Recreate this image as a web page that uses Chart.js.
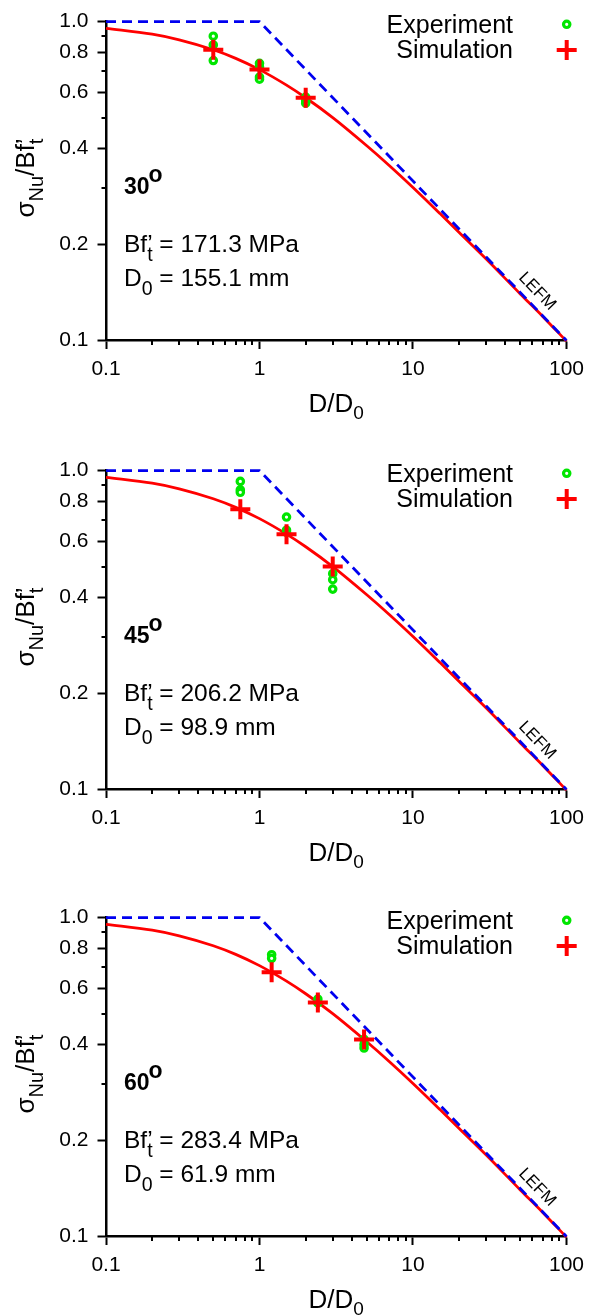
<!DOCTYPE html>
<html lang="en">
<head>
  <meta charset="UTF-8">
  <title>Size effect – normalised nominal strength</title>
  <script src="https://cdn.jsdelivr.net/npm/chart.js"></script>
  <style>
    body { margin:0; background:#fff; width:592px; height:1315px; overflow:hidden; position:relative; }
    .panel { position:absolute; left:0; width:592px; }
    canvas { display:block; }
  </style>
</head>
<body>
  <div class="panel" style="top:0px"><canvas id="c30" width="592" height="449"></canvas></div>
  <div class="panel" style="top:449px"><canvas id="c45" width="592" height="447"></canvas></div>
  <div class="panel" style="top:896px"><canvas id="c60" width="592" height="419"></canvas></div>

<script>
// axis ticks
const xTickValues = [0.1, 1, 10, 100];
const xTickLabels = ['0.1', '1', '10', '100'];
const xMinorTicks = [0.2, 0.3, 0.4, 0.5, 0.6, 0.7, 0.8, 0.9, 2, 3, 4, 5, 6, 7, 8, 9, 20, 30, 40, 50, 60, 70, 80, 90];
const yTickValues = [0.1, 0.2, 0.4, 0.6, 0.8, 1.0];
const yTickLabels = ['0.1', '0.2', '0.4', '0.6', '0.8', '1.0'];
const yMinorTicks = [0.3, 0.5, 0.7, 0.9];

// size effect curve (same normalised curve in every panel)
const curveX = [0.1, 0.2, 0.3, 0.5, 0.7, 1, 1.5, 2, 3, 5, 7, 10, 15, 20, 30, 50, 70, 100];
const curveY = [0.953, 0.913, 0.877, 0.816, 0.767, 0.707, 0.632, 0.577, 0.500, 0.408, 0.354, 0.302, 0.250, 0.218, 0.180, 0.140, 0.119, 0.0995];

// LEFM asymptote
const lefmX = [0.1, 1, 100];
const lefmY = [1, 1, 0.1];

// panel labels
const angles = ['30', '45', '60'];
const strengths = ['171.3', '206.2', '283.4'];
const sizes = ['155.1', '98.9', '61.9'];

// 30 degrees
const simX30 = [0.5, 1, 2];
const simY30 = [0.816, 0.707, 0.577];
const expX30 = [0.5, 0.5, 0.5, 1, 1, 1, 1, 2, 2, 2];
const expY30 = [0.90, 0.845, 0.755, 0.74, 0.72, 0.67, 0.66, 0.58, 0.565, 0.555];

// 45 degrees
const simX45 = [0.75, 1.5, 3];
const simY45 = [0.756, 0.632, 0.500];
const expX45 = [0.75, 0.75, 0.75, 1.5, 1.5, 1.5, 3, 3, 3];
const expY45 = [0.925, 0.87, 0.855, 0.715, 0.65, 0.64, 0.475, 0.455, 0.425];

// 60 degrees
const simX60 = [1.2, 2.4, 4.8];
const simY60 = [0.674, 0.542, 0.415];
const expX60 = [1.2, 1.2, 2.4, 2.4, 4.8, 4.8, 4.8];
const expY60 = [0.765, 0.745, 0.555, 0.54, 0.415, 0.40, 0.39];

const GREEN = '#00e600';
const RED = '#ff0000';
const BLUE = '#0000f0';
const FONT = '"Liberation Sans", Arial, sans-serif';

const pts = (xs, ys) => xs.map((x, i) => ({ x: x, y: ys[i] }));

function drawRuns(ctx, x, y, parts) {
  let cx = x;
  for (const p of parts) {
    ctx.font = p.f;
    ctx.fillText(p.t, cx, y + (p.dy || 0));
    if (!p.hold) cx += ctx.measureText(p.t).width;
  }
  return cx;
}
function runsWidth(ctx, parts) {
  let w = 0;
  for (const p of parts) {
    ctx.font = p.f;
    if (!p.hold) w += ctx.measureText(p.t).width;
  }
  return w;
}

const panelText = {
  id: 'panelText',
  afterDatasetsDraw(chart, args, opts) {
    const ctx = chart.ctx;
    const xs = chart.scales.x, ys = chart.scales.y;
    const area = chart.chartArea;
    ctx.save();
    ctx.fillStyle = '#000';
    ctx.strokeStyle = '#000';
    ctx.textAlign = 'left';
    ctx.textBaseline = 'alphabetic';

    // minor ticks
    ctx.lineWidth = 2;
    ctx.beginPath();
    xMinorTicks.forEach(v => {
      const px = Math.round(xs.getPixelForValue(v));
      ctx.moveTo(px, area.bottom); ctx.lineTo(px, area.bottom + 4.5);
    });
    yMinorTicks.forEach(v => {
      const py = Math.round(ys.getPixelForValue(v));
      ctx.moveTo(area.left, py); ctx.lineTo(area.left - 4.5, py);
    });
    ctx.stroke();

    // angle
    ctx.font = 'bold 23px ' + FONT;
    ctx.fillText(opts.angle, 124, 194);
    const aw = ctx.measureText(opts.angle).width;
    ctx.fillText('o', 124 + aw - 1, 182);

    // material constants
    const big = '24.5px ' + FONT, small = '19.5px ' + FONT;
    drawRuns(ctx, 124, 251.5, [
      { t: 'Bf', f: big }, { t: '\u2019', f: big, hold: true }, { t: 't', f: small, dy: 9 },
      { t: ' = ' + opts.bf + ' MPa', f: big }
    ]);
    drawRuns(ctx, 124, 285.5, [
      { t: 'D', f: big }, { t: '0', f: small, dy: 9 }, { t: ' = ' + opts.d0 + ' mm', f: big }
    ]);

    // axis titles
    const tBig = '26px ' + FONT, tSmall = '20px ' + FONT;
    const xt = [{ t: 'D/D', f: tBig }, { t: '0', f: '19px ' + FONT, dy: 7 }];
    drawRuns(ctx, (area.left + area.right) / 2 - runsWidth(ctx, xt) / 2, area.bottom + 71, xt);

    const yt = [
      { t: '\u03C3', f: tBig }, { t: 'Nu', f: tSmall, dy: 9.5 }, { t: '/Bf', f: tBig },
      { t: '\u2019', f: tBig, hold: true }, { t: 't', f: tSmall, dy: 9.5 }
    ];
    ctx.save();
    ctx.translate(33.5, (area.top + area.bottom) / 2 - 3);
    ctx.rotate(-Math.PI / 2);
    drawRuns(ctx, -runsWidth(ctx, yt) / 2, 0, yt);
    ctx.restore();

    // LEFM label along the asymptote
    const p1x = xs.getPixelForValue(lefmX[1]), p1y = ys.getPixelForValue(lefmY[1]);
    const p2x = xs.getPixelForValue(lefmX[2]), p2y = ys.getPixelForValue(lefmY[2]);
    const ang = Math.atan2(p2y - p1y, p2x - p1x);
    const t = 0.874, off = 13;
    const cx = p1x + (p2x - p1x) * t + Math.sin(ang) * off;
    const cy = p1y + (p2y - p1y) * t - Math.cos(ang) * off;
    ctx.save();
    ctx.translate(cx, cy);
    ctx.rotate(ang);
    ctx.font = '17px ' + FONT;
    ctx.textAlign = 'center';
    ctx.textBaseline = 'middle';
    ctx.fillText('LEFM', 0, 0);
    ctx.restore();

    // legend
    ctx.font = '25px ' + FONT;
    ctx.textAlign = 'right';
    ctx.fillText('Experiment', 513, 33.3);
    ctx.fillText('Simulation', 513, 58.3);
    ctx.beginPath();
    ctx.arc(566.7, 24.3, 3.2, 0, Math.PI * 2);
    ctx.fillStyle = '#fff';
    ctx.fill();
    ctx.lineWidth = 3.2;
    ctx.strokeStyle = GREEN;
    ctx.stroke();
    ctx.beginPath();
    ctx.lineWidth = 4;
    ctx.strokeStyle = RED;
    ctx.moveTo(556.7, 50); ctx.lineTo(576.7, 50);
    ctx.moveTo(566.7, 40); ctx.lineTo(566.7, 60);
    ctx.stroke();
    ctx.restore();
  }
};

function makePanel(id, h, idx, simX, simY, expX, expY) {
  return new Chart(document.getElementById(id), {
    type: 'scatter',
    data: {
      datasets: [
        { data: pts(curveX, curveY), showLine: true, borderColor: RED, borderWidth: 2.8,
          pointRadius: 0, cubicInterpolationMode: 'monotone', clip: false, order: 4 },
        { data: pts(lefmX, lefmY), showLine: true, borderColor: BLUE, borderWidth: 2.8,
          borderDash: [10, 6], pointRadius: 0, clip: false, order: 3 },
        { data: pts(expX, expY), pointStyle: 'circle', pointRadius: 3.2, borderWidth: 3.2,
          borderColor: GREEN, backgroundColor: '#fff', clip: false, order: 2 },
        { data: pts(simX, simY), pointStyle: 'cross', pointRadius: 10, borderWidth: 4,
          borderColor: RED, clip: false, order: 1 }
      ]
    },
    options: {
      responsive: false,
      animation: false,
      events: [],
      devicePixelRatio: 1,
      layout: { padding: { top: 19, right: 21, left: 0, bottom: 0 } },
      plugins: {
        legend: { display: false },
        tooltip: { enabled: false },
        panelText: { angle: angles[idx], bf: strengths[idx], d0: sizes[idx] }
      },
      scales: {
        x: {
          type: 'logarithmic', min: 0.1, max: 100,
          afterBuildTicks: s => { s.ticks = xTickValues.map(v => ({ value: v })); },
          afterFit: s => { s.height = h - 19 - 321.5; },
          ticks: {
            autoSkip: false, maxRotation: 0, padding: 8, color: '#000',
            font: { family: FONT, size: 21 },
            callback: v => xTickLabels[xTickValues.indexOf(v)]
          },
          grid: { drawOnChartArea: false, tickLength: 8.5, tickWidth: 2, tickColor: '#000' },
          border: { display: true, color: '#000', width: 2.5 }
        },
        y: {
          type: 'logarithmic', min: 0.1, max: 1,
          afterBuildTicks: s => { s.ticks = yTickValues.map(v => ({ value: v })); },
          afterFit: s => { s.width = 106; },
          ticks: {
            autoSkip: false, padding: 9, color: '#000',
            font: { family: FONT, size: 21 },
            callback: v => yTickLabels[yTickValues.indexOf(v)]
          },
          grid: { drawOnChartArea: false, tickLength: 8.5, tickWidth: 2, tickColor: '#000' },
          border: { display: true, color: '#000', width: 2.5 }
        }
      }
    },
    plugins: [panelText]
  });
}

makePanel('c30', 449, 0, simX30, simY30, expX30, expY30);
makePanel('c45', 447, 1, simX45, simY45, expX45, expY45);
makePanel('c60', 419, 2, simX60, simY60, expX60, expY60);
</script>
</body>
</html>
